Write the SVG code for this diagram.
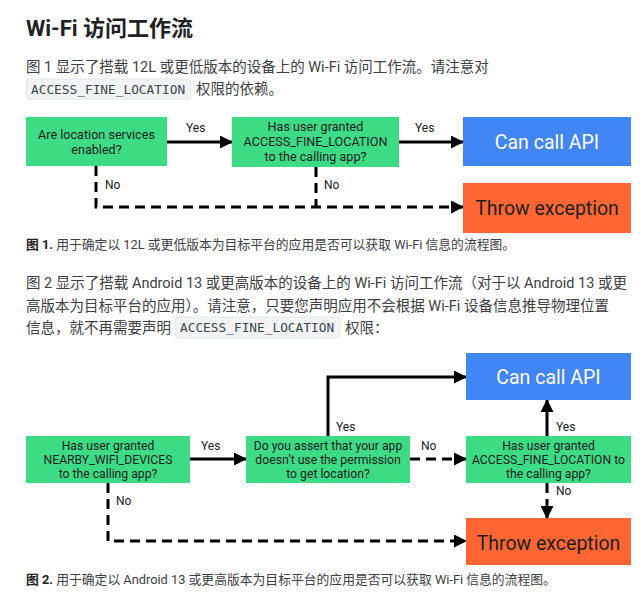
<svg xmlns="http://www.w3.org/2000/svg" width="640" height="605" viewBox="0 0 640 605">
<defs>
<style>
.t{font-family:Roboto,"Noto Sans CJK SC",sans-serif;fill:#3c4043}
.title{font-family:Roboto,"Noto Sans CJK SC",sans-serif;font-size:22px;font-weight:bold;fill:#202124}
.p{font-size:14.5px}
.cap{font-size:12.8px}
.code{font-family:"DejaVu Sans Mono","Liberation Mono",monospace;font-size:12.8px;fill:#37474f}
.codebg{fill:#f1f3f4;stroke:#e3e5e7;stroke-width:1}
.g{fill:#3ddc84}
.b{fill:#4285f4}
.o{fill:#ff6633}
.nt{font-family:Roboto,"Noto Sans",sans-serif;font-size:12.6px;fill:#202124;text-anchor:middle}
.nt2{font-family:Roboto,"Noto Sans",sans-serif;font-size:12.2px;fill:#202124;text-anchor:middle}
.big{font-family:Roboto,"Noto Sans",sans-serif;font-size:19.5px;text-anchor:middle}
.lbl{font-family:Roboto,"Noto Sans",sans-serif;font-size:12px;fill:#202124}
.ln{fill:none;stroke:#000;stroke-width:3}
.ds{stroke-dasharray:10 6}
</style>
<marker id="ah" viewBox="0 0 13 13" refX="12" refY="6.5" markerWidth="13" markerHeight="13" markerUnits="userSpaceOnUse" orient="auto">
<path d="M0,0 L13,6.5 L0,13 Z" fill="#000"/>
</marker>
</defs>
<rect width="640" height="605" fill="#fff"/>

<g id="text">
<text class="title" x="26" y="36">Wi-Fi 访问工作流</text>
<text class="t p" x="26" y="72">图 1 显示了搭载 12L 或更低版本的设备上的 Wi-Fi 访问工作流。请注意对</text>
<rect class="codebg" x="26" y="79" width="165" height="20" rx="4"/>
<text class="code" x="31" y="94">ACCESS_FINE_LOCATION</text>
<text class="t p" x="196" y="94">权限的依赖。</text>
<text class="t cap" x="26" y="249"><tspan font-weight="bold" fill="#202124">图 1.</tspan> 用于确定以 12L 或更低版本为目标平台的应用是否可以获取 Wi-Fi 信息的流程图。</text>
<text class="t p" x="26" y="288">图 2 显示了搭载 Android 13 或更高版本的设备上的 Wi-Fi 访问工作流（对于以 Android 13 或更</text>
<text class="t p" x="26" y="311">高版本为目标平台的应用）。请注意，只要您声明应用不会根据 Wi-Fi 设备信息推导物理位置</text>
<text class="t p" x="26" y="333">信息，就不再需要声明</text>
<rect class="codebg" x="175" y="317" width="165" height="21" rx="4"/>
<text class="code" x="180" y="332">ACCESS_FINE_LOCATION</text>
<text class="t p" x="345" y="333">权限：</text>
<text class="t cap" x="26" y="584"><tspan font-weight="bold" fill="#202124">图 2.</tspan> 用于确定以 Android 13 或更高版本为目标平台的应用是否可以获取 Wi-Fi 信息的流程图。</text>
</g>

<g id="connectors">
<path class="ln" d="M167,142 H232" marker-end="url(#ah)"/>
<path class="ln" d="M399,142 H463" marker-end="url(#ah)"/>
<path class="ln ds" d="M96,166 V207 H463" marker-end="url(#ah)"/>
<path class="ln ds" d="M316,167 V207"/>
<path class="ln" d="M190,459 H246" marker-end="url(#ah)"/>
<path class="ln" d="M328,436 V377 H466" marker-end="url(#ah)"/>
<path class="ln ds" d="M410,459 H466" marker-end="url(#ah)"/>
<path class="ln" d="M547,436 V400" marker-end="url(#ah)"/>
<path class="ln ds" d="M547,483 V518" marker-end="url(#ah)"/>
<path class="ln ds" d="M108,483 V541 H466" marker-end="url(#ah)"/>
<text class="lbl" x="186" y="132">Yes</text>
<text class="lbl" x="415" y="132">Yes</text>
<text class="lbl" x="105" y="189">No</text>
<text class="lbl" x="324" y="189">No</text>
<text class="lbl" x="201" y="450">Yes</text>
<text class="lbl" x="421" y="450">No</text>
<text class="lbl" x="336" y="431">Yes</text>
<text class="lbl" x="556" y="431">Yes</text>
<text class="lbl" x="556" y="495">No</text>
<text class="lbl" x="116" y="505">No</text>
</g>

<g id="n-location">
<rect class="g" x="26" y="117" width="141" height="49"/>
<text class="nt" x="96.5" y="139">Are location services</text>
<text class="nt" x="96.5" y="154">enabled?</text>
</g>
<g id="n-fine1">
<rect class="g" x="232" y="117" width="167" height="50"/>
<text class="nt" x="315.5" y="131">Has user granted</text>
<text class="nt" x="315.5" y="146">ACCESS_FINE_LOCATION</text>
<text class="nt" x="315.5" y="161">to the calling app?</text>
</g>
<g id="n-api1">
<rect class="b" x="463" y="117" width="168" height="49"/>
<text class="big" x="547" y="149" fill="#fff">Can call API</text>
</g>
<g id="n-throw1">
<rect class="o" x="463" y="183" width="168" height="50"/>
<text class="big" x="547" y="215" fill="#202124">Throw exception</text>
</g>

<g id="n-nearby">
<rect class="g" x="26" y="436" width="164" height="47"/>
<text class="nt2" x="108" y="450">Has user granted</text>
<text class="nt2" x="108" y="464">NEARBY_WIFI_DEVICES</text>
<text class="nt2" x="108" y="478">to the calling app?</text>
</g>
<g id="n-assert">
<rect class="g" x="246" y="436" width="164" height="47"/>
<text class="nt2" x="328" y="450">Do you assert that your app</text>
<text class="nt2" x="328" y="464">doesn’t use the permission</text>
<text class="nt2" x="328" y="478">to get location?</text>
</g>
<g id="n-fine2">
<rect class="g" x="466" y="436" width="165" height="47"/>
<text class="nt2" x="548.5" y="450">Has user granted</text>
<text class="nt2" x="548.5" y="464">ACCESS_FINE_LOCATION to</text>
<text class="nt2" x="548.5" y="478">the calling app?</text>
</g>
<g id="n-api2">
<rect class="b" x="466" y="353" width="165" height="47"/>
<text class="big" x="548.5" y="384" fill="#fff">Can call API</text>
</g>
<g id="n-throw2">
<rect class="o" x="466" y="518" width="165" height="47"/>
<text class="big" x="548.5" y="550" fill="#202124">Throw exception</text>
</g>
</svg>
